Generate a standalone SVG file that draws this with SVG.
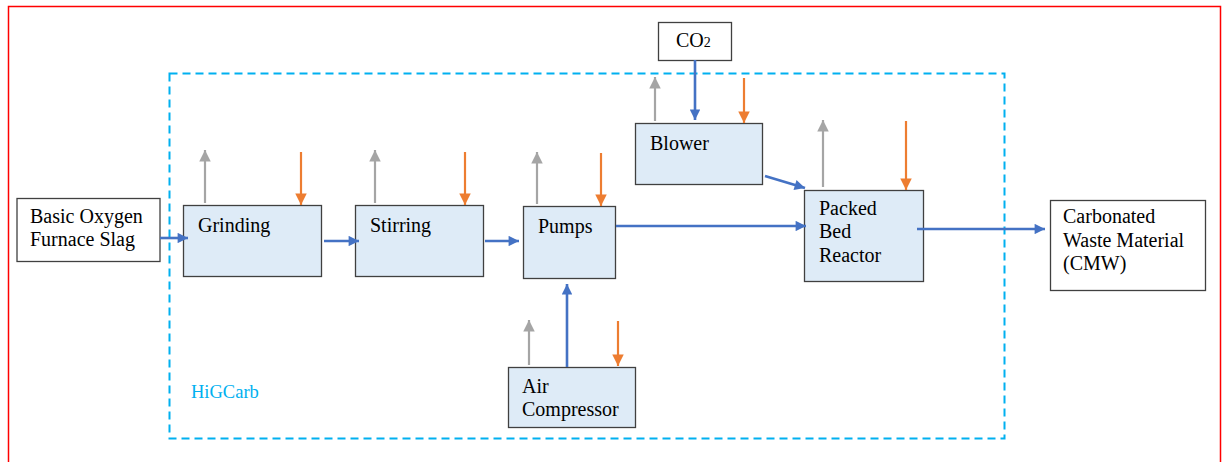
<svg xmlns="http://www.w3.org/2000/svg" width="1222" height="462" viewBox="0 0 1222 462">
<style>
.n{fill:#DEEBF7;stroke:#404040;stroke-width:1.3}
.w{fill:#fff;stroke:#404040;stroke-width:1.3}
.b{stroke:#4472C4;stroke-width:2.6;fill:none;marker-end:url(#mb)}
.g{stroke:#A5A5A5;stroke-width:2.2;fill:none;marker-end:url(#mg)}
.o{stroke:#ED7D31;stroke-width:2.2;fill:none;marker-end:url(#mo)}
.f{font-family:'Liberation Serif','DejaVu Serif',serif}
</style>
<defs>
<marker id="mb" viewBox="0 0 10 10" refX="10" refY="5" markerWidth="4.4" markerHeight="4" orient="auto" markerUnits="strokeWidth"><path d="M0,0L10,5L0,10z" fill="#4472C4"/></marker>
<marker id="mg" viewBox="0 0 10 10" refX="10" refY="5" markerWidth="5.4" markerHeight="5.2" orient="auto" markerUnits="strokeWidth"><path d="M0,0L10,5L0,10z" fill="#A5A5A5"/></marker>
<marker id="mo" viewBox="0 0 10 10" refX="10" refY="5" markerWidth="5.4" markerHeight="5.2" orient="auto" markerUnits="strokeWidth"><path d="M0,0L10,5L0,10z" fill="#ED7D31"/></marker>
</defs>
<rect width="1222" height="462" fill="#fff"/>
<path d="M8.5,470V6.5H1220.5V470" fill="none" stroke="#FF0000" stroke-width="1.5"/>
<g class="f" font-size="20" fill="#000">
<g id="higcarb">
<rect x="169.5" y="73.5" width="835" height="365" fill="none" stroke="#00B0F0" stroke-width="2" stroke-dasharray="8,5"/>
<text x="191" y="398" font-size="18.5" fill="#00B0F0">HiGCarb</text>
</g>
<g id="bof"><rect class="w" x="17" y="198.5" width="143" height="63"/><text x="30" y="223">Basic Oxygen</text><text x="30" y="246">Furnace Slag</text></g>
<g id="grinding"><rect class="n" x="183.5" y="205.5" width="138" height="71"/><text x="198" y="232">Grinding</text></g>
<g id="stirring"><rect class="n" x="355.5" y="205.5" width="128" height="71"/><text x="370" y="232">Stirring</text></g>
<g id="pumps"><rect class="n" x="523.5" y="206.5" width="92" height="72"/><text x="538" y="233">Pumps</text></g>
<g id="blower"><rect class="n" x="635.5" y="123.5" width="127" height="61"/><text x="650" y="150">Blower</text></g>
<g id="co2"><rect class="w" x="658.5" y="22.5" width="73" height="38"/><text x="676" y="47">CO<tspan font-size="14">2</tspan></text></g>
<g id="pbr"><rect class="n" x="804.5" y="190.5" width="119" height="91"/><text x="819" y="215">Packed</text><text x="819" y="238">Bed</text><text x="819" y="262">Reactor</text></g>
<g id="cmw"><rect class="w" x="1050.5" y="200.5" width="155" height="90"/><text x="1063" y="223">Carbonated</text><text x="1063" y="247">Waste Material</text><text x="1063" y="270">(CMW)</text></g>
<g id="aircomp"><rect class="n" x="508.5" y="367.5" width="127" height="60"/><text x="522" y="393">Air</text><text x="522" y="416">Compressor</text></g>
</g>
<g id="connectors">
<line class="b" x1="160" y1="238" x2="188" y2="238"/>
<line class="b" x1="324" y1="241" x2="359" y2="241"/>
<line class="b" x1="485" y1="241" x2="519" y2="241"/>
<line class="b" x1="616" y1="226" x2="806" y2="226"/>
<line class="b" x1="765" y1="176" x2="805" y2="188"/>
<line class="b" x1="695" y1="60" x2="695" y2="120"/>
<line class="b" x1="567" y1="367" x2="567" y2="284"/>
<line class="b" x1="917" y1="229" x2="1045" y2="229"/>
<line class="g" x1="205" y1="203" x2="205" y2="150"/>
<line class="g" x1="375" y1="203" x2="375" y2="150"/>
<line class="g" x1="537" y1="204" x2="537" y2="152"/>
<line class="g" x1="655" y1="121" x2="655" y2="77"/>
<line class="g" x1="823" y1="187" x2="823" y2="120"/>
<line class="g" x1="529" y1="365" x2="529" y2="320"/>
<line class="o" x1="301" y1="152" x2="301" y2="205"/>
<line class="o" x1="465" y1="152" x2="465" y2="205"/>
<line class="o" x1="601" y1="153" x2="601" y2="206"/>
<line class="o" x1="744" y1="78" x2="744" y2="123"/>
<line class="o" x1="906" y1="121" x2="906" y2="190"/>
<line class="o" x1="618" y1="321" x2="618" y2="366"/>
</g>
</svg>
